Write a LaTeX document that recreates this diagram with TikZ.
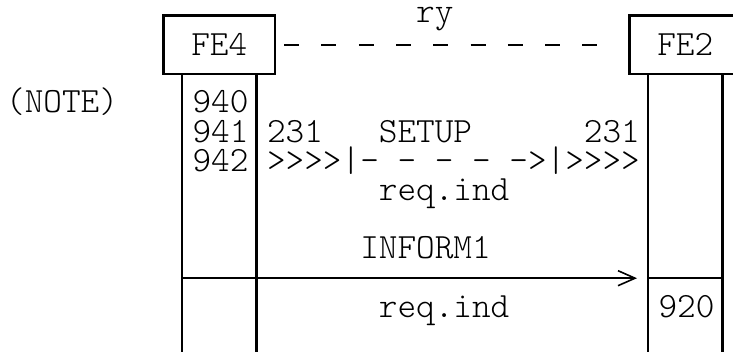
\documentclass[tikz,border=0pt]{standalone}
\usepackage{fontspec}
\setmonofont{Latin Modern Mono Light}
\usetikzlibrary{arrows.meta}
\begin{document}
\begin{tikzpicture}[x=18.64pt,y=-29.2pt,line width=2.4pt,
  txt/.style={font=\ttfamily\fontsize{35.5}{35.5}\selectfont,inner sep=0pt,anchor=base west},
  febox/.style={draw,rectangle,minimum width=111.84pt,minimum height=58.4pt,
    inner sep=0pt,outer sep=0pt,font=\ttfamily\fontsize{35.5}{35.5}\selectfont},
  msg/.style={-{Straight Barb[length=17pt,width=15pt,line width=1.6pt]}}]
\useasboundingbox (-182pt,103pt) rectangle (551pt,-253pt);
% coordinates
\coordinate (L1) at ( 0,8.53);%
\coordinate (L2) at ( 4,8.53);%
\coordinate (L3) at (25,8.53);%
\coordinate (L4) at (29,8.53);%
\coordinate (IS) at ( 0,6);%
\coordinate (IE) at (24.41,6);%
\coordinate (BS) at (25,6);%
\coordinate (BE) at (29,6);%
% boxes
\node[febox] (fe4) at ( 2,-2) {FE4};
\node[febox] (fe2) at (27,-2) {FE2};
% relation
\draw[line width=2pt,dash pattern=on 15pt off 22.28pt,shorten <=9pt,shorten >=32.7pt] (fe4.east) -- (fe2.west);
\node[txt] (ry) at (12.5,-2.77) {ry};
% lifelines
\draw (fe4.south -| L1) -- (L1);
\draw (fe4.south -| L2) -- (L2);
\draw (fe2.south -| L3) -- (L3);
\draw (fe2.south -| L4) -- (L4);
% messages
\draw[msg] (IS) -- (IE);
\draw (BS) -- (BE);
% texts
\node[txt] (note)   at (-9.5,0.34) {(NOTE)};
\node[txt] (n940)   at ( 0.5,0.34) {940};
\node[txt] (n941)   at ( 0.5,1.34) {941};
\node[txt] (n942)   at ( 0.5,2.34) {942};
\node[txt] (ida)    at ( 4.5,1.34) {231};
\node[txt] (setup)  at (10.5,1.34) {SETUP};
\node[txt] (idb)    at (21.5,1.34) {231};
\node[txt] (setln)  at ( 4.5,2.34) {>>>>|- - - - ->|>>>>};
\node[txt] (reqa)   at (10.5,3.34) {req.ind};
\node[txt] (inform) at ( 9.5,5.34) {INFORM1};
\node[txt] (reqb)   at (10.5,7.34) {req.ind};
\node[txt] (n920)   at (25.5,7.34) {920};
\end{tikzpicture}
\end{document}
